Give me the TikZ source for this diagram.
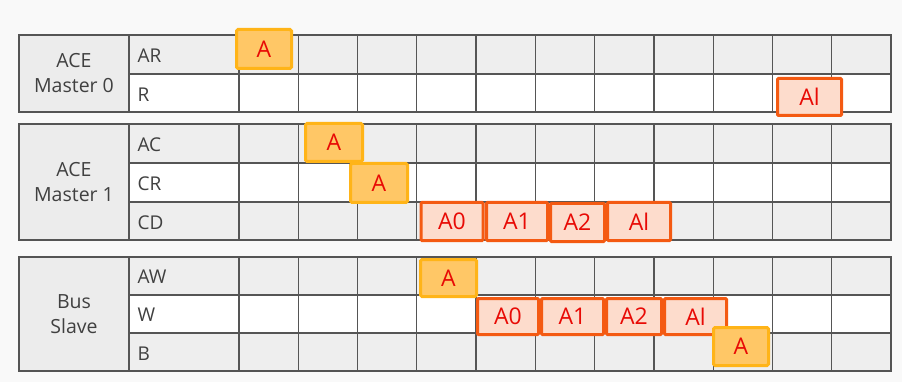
\documentclass[tikz,border=0pt]{standalone}
\usepackage{fontspec}
\setmainfont{Open Sans}
\definecolor{bgc}{HTML}{F9F9F9}
\definecolor{gridc}{HTML}{555555}
\definecolor{rowg}{HTML}{EEEEEE}
\definecolor{labg}{HTML}{ECECEC}
\definecolor{txtc}{HTML}{404040}
\definecolor{yfill}{HTML}{FFC766}
\definecolor{ydraw}{HTML}{FFB418}
\definecolor{ofill}{HTML}{FDDCCC}
\definecolor{odraw}{HTML}{F45A12}
\definecolor{redt}{HTML}{E80A05}
\begin{document}
\begin{tikzpicture}[x=1pt,y=-1pt,
  gridline/.style={draw=gridc,line width=1.3pt},
  outline/.style={draw=gridc,line width=1.8pt},
  lbl/.style={text=txtc,font=\fontsize{19.5}{25}\selectfont,align=center},
  sig/.style={text=txtc,font=\fontsize{19}{22}\selectfont,anchor=west},
  ybox/.style={fill=yfill,draw=ydraw,line width=3pt,rounded corners=1.5pt,text=redt,font=\fontsize{23}{25}\selectfont,inner sep=0pt},
  obox/.style={fill=ofill,draw=odraw,line width=3pt,rounded corners=1pt,text=redt,font=\fontsize{23}{25}\selectfont,inner sep=0pt}]
\fill[bgc] (0,0) rectangle (902,382);
\useasboundingbox (0,0) rectangle (902,382);
% row fills and grid
\foreach \a/\b/\c in {35/74/rowg,74/112/white,124/163/rowg,163/202/white,202/240/rowg,257/295/rowg,295/333/white,333/371/rowg}{
  \fill[\c] (129,\a) rectangle (891.3,\b);
  \draw[gridline] (129,\a) -- (891.3,\a);
  \foreach \k in {0,...,10}{
    \draw[gridline] ({239+59.27*\k},\a) -- ({239+59.27*\k},\b);
  }
}
% label columns and outlines
\foreach \t/\b in {35/112,124/240,257/371}{
  \fill[labg] (19,\t) rectangle (129,\b);
  \draw[gridline] (129,\t) -- (129,\b);
  \draw[outline] (19,\t) rectangle (891.3,\b);
}
% labels
\node[lbl] (m0) at (74,73.5) {ACE\\Master 0};
\node[lbl] (m1) at (74,182) {ACE\\Master 1};
\node[lbl] (bs) at (74,314) {Bus\\Slave};
% signal names
\node[sig] (sAR) at (134,56) {AR};
\node[sig] (sR)  at (134,95) {R};
\node[sig] (sAC) at (134,145) {AC};
\node[sig] (sCR) at (134,184) {CR};
\node[sig] (sCD) at (134,223) {CD};
\node[sig] (sAW) at (134,277) {AW};
\node[sig] (sW)  at (134,315) {W};
\node[sig] (sB)  at (134,354) {B};
% transfer boxes
\node[ybox,minimum width=55pt,minimum height=39pt] (arA) at (264,49) {A};
\node[obox,minimum width=64pt,minimum height=37pt] (rAl) at (809.5,97) {Al};
\node[ybox,minimum width=57pt,minimum height=38pt] (acA) at (334,142.5) {A};
\node[ybox,minimum width=57pt,minimum height=39pt] (crA) at (379,183) {A};
\node[obox,minimum width=62pt,minimum height=38pt] (cd0) at (452,221.5) {A0};
\node[obox,minimum width=61pt,minimum height=38pt] (cd1) at (517,221.5) {A1};
\node[obox,minimum width=54pt,minimum height=38pt] (cd2) at (577.5,222.5) {A2};
\node[obox,minimum width=63pt,minimum height=38pt] (cd3) at (639,221.5) {Al};
\node[ybox,minimum width=56pt,minimum height=37pt] (awA) at (448.5,278) {A};
\node[obox,minimum width=61pt,minimum height=36pt] (w0) at (508,316.5) {A0};
\node[obox,minimum width=62pt,minimum height=36pt] (w1) at (572.5,316.5) {A1};
\node[obox,minimum width=55pt,minimum height=36pt] (w2) at (634,316.5) {A2};
\node[obox,minimum width=62pt,minimum height=36pt] (w3) at (695.5,316.5) {Al};
\node[ybox,minimum width=55pt,minimum height=38pt] (bA) at (741,346.5) {A};
\end{tikzpicture}
\end{document}
